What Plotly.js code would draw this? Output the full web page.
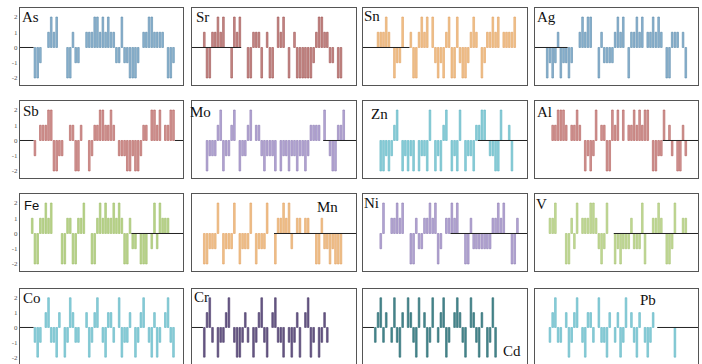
<!DOCTYPE html>
<html><head><meta charset="utf-8">
<script src="https://cdn.plot.ly/plotly-3.0.1.min.js"></script>
<style>html,body{margin:0;padding:0;background:#fff}#chart{width:702px;height:364px}</style>
</head><body><div id="chart"></div>
<script>
const _ = null;
const elements = ['As','Sr','Sn','Ag','Sb','Mo','Zn','Al','Fe','Mn','Ni','V','Co','Cr','Cd','Pb'];

const As = [_,_,_,_,_,-2,-2,-1,_,_,1,2,1,2,_,_,_,-2,-2,1,-1,-1,_,_,1,1,1,2,2,1,2,1,2,1,1,-1,-1,2,-1,-1,-2,-2,-2,-1,_,1,1,2,2,1,1,1,1,_,-2,-2,-1,_,_,_];
const Sr = [_,_,_,_,1,-2,-2,1,1,2,1,2,_,_,-2,2,1,2,_,_,-2,-2,1,1,1,-2,_,1,-2,-2,_,2,1,2,_,-2,_,1,-2,-2,-2,-2,-2,-2,-1,1,2,2,1,1,-1,-1,_,-2,-2,_,_,_,_,_];
const Sn = [_,_,_,_,_,1,1,1,2,1,_,-2,-1,-1,2,_,_,1,-2,-2,1,2,1,2,_,2,-1,-2,-1,-2,1,2,-2,-2,2,-1,-2,-2,-1,1,2,1,_,-2,-1,1,1,2,1,2,_,1,1,1,1,2,_,_,_,_];
const Ag = [_,_,_,_,-2,-1,-2,-1,1,-2,-1,-1,-2,-1,_,_,1,2,1,2,2,_,_,-2,1,-1,-1,-1,-1,1,2,1,2,_,-2,1,1,2,1,2,_,1,1,2,1,2,1,_,-2,-2,1,1,1,_,1,-2,_,_,_,_];
const Sb = [_,_,_,_,_,-1,_,1,1,1,2,2,-2,-2,-1,-1,_,_,1,1,-2,-2,1,_,_,-2,-1,1,1,2,2,1,1,2,1,_,-1,-1,-1,-2,-2,-1,-2,-2,-1,1,1,_,2,2,1,2,_,1,1,2,2,_,_,_];
const Mo = [_,_,_,_,_,-2,-1,-1,-1,1,2,-2,-1,-1,1,2,_,-2,-1,-1,1,2,_,1,1,-1,-2,-1,-1,-1,-2,_,-2,-1,-1,-2,-1,-1,-2,-1,-1,-2,-1,1,1,1,1,_,2,_,-1,-2,-2,1,1,2,_,_,_,_];
const Zn = [_,_,_,_,_,_,-2,-2,-1,-2,-1,1,2,_,-2,-1,-2,-1,-2,_,-2,-1,-1,-2,2,_,-2,-1,-2,1,2,_,-2,-1,-2,2,_,-2,-1,-1,-2,1,1,2,2,_,-1,-1,-2,-2,2,_,_,1,-2,_,_,_,_,_];
const Al = [_,_,_,_,_,_,1,1,2,2,2,1,_,1,1,2,1,_,-2,-1,-2,-1,2,_,1,1,-2,-2,2,1,2,_,2,_,1,1,2,1,2,1,2,2,_,-2,-2,-1,-1,2,_,1,-1,_,-2,-2,1,-1,_,_,_,_];
const Fe = [_,_,_,_,1,-2,-2,1,1,2,1,2,_,_,_,-2,-2,1,1,-2,-2,1,1,2,_,_,-2,-2,1,2,1,2,1,1,2,1,2,1,-2,-2,1,-1,-1,_,-2,-2,-2,_,-1,2,-1,2,1,1,1,_,_,_,_,_];
const Mn = [_,_,_,_,-2,-2,-1,-1,-1,2,_,-2,-1,-1,-1,2,_,-2,-1,-1,-1,2,_,-2,-1,-1,-1,2,_,_,-2,1,1,2,1,2,-1,_,1,1,_,1,1,_,_,-2,-2,1,-1,-1,-2,-1,-2,-2,-2,_,_,_,_,_];
const Ni = [_,_,_,_,_,_,-1,2,_,_,1,1,2,1,2,_,_,-2,-2,1,-1,-1,1,1,2,1,2,-2,-1,_,1,1,2,1,2,_,_,-2,-2,1,-1,-1,-1,-1,-1,-1,-1,1,1,2,1,2,_,_,-2,-2,1,_,_,_];
const V  = [_,_,_,_,_,1,1,2,_,_,_,-2,-2,1,-1,2,_,1,1,1,2,2,1,-1,-2,-1,2,_,_,-2,-1,-2,-1,-1,-1,1,-1,-1,-1,2,-2,_,_,1,1,2,1,_,-2,-2,-1,2,_,_,1,1,_,_,_,_];
const Co = [_,_,_,_,_,-1,-2,-1,_,1,2,-1,-1,-2,1,_,-2,-1,2,1,-1,-1,_,_,1,-2,-1,1,2,_,-1,-2,1,1,-1,_,2,-2,-1,-1,1,_,-2,-1,1,2,_,-1,-2,1,-2,-1,_,1,2,-1,-2,_,_,_];
const Cr = [_,_,_,_,-2,1,2,-1,_,-2,-1,-1,1,2,_,-1,-2,-2,-1,1,-1,_,-2,-1,1,2,-1,-2,_,1,2,-1,-1,-2,_,-1,-2,-1,1,-2,_,1,2,-2,-1,_,-2,-1,1,-1,_,_,_,_,_,_,_,_,_,_];
const Cd = [_,_,_,_,-1,1,2,-1,1,_,-1,2,-1,-2,1,_,2,1,-1,-2,2,_,1,-2,-1,2,_,-1,1,2,-2,-1,_,1,2,1,-1,-2,_,2,1,-1,-2,1,_,-2,-1,2,-2,_,_,_,_,_,_,_,_,_,_,_];
const Pb = [_,_,_,_,_,-1,1,2,-1,-1,_,1,-2,-1,1,2,_,-1,-2,1,1,-1,_,2,-1,-1,-2,1,_,-1,1,-2,-1,2,_,1,-1,-2,1,_,-1,-2,-1,1,_,_,_,_,_,_,_,-2,_,_,_,_,_,_,_,_];

// index ranges where the zero baseline is drawn
const zeroSpans = {
  As:[[0,4]], Sr:[[0,17]], Sn:[[0,16]], Ag:[[0,11]],
  Sb:[[0,4],[57,59]], Mo:[[48,59]], Zn:[[42,59]], Al:[[47,59]],
  Fe:[[41,59]], Mn:[[30,59]], Ni:[[32,59]], V:[[29,59]],
  Co:[[0,4]], Cr:[[0,3]], Cd:[[0,3]], Pb:[[45,59]]
};
const yTicks = [-2,-1,0,1,2];
const yTickText = ['-2','-1','0','1','2'];

const series = {As,Sr,Sn,Ag,Sb,Mo,Zn,Al,Fe,Mn,Ni,V,Co,Cr,Cd,Pb};
const fills = {As:'#8fb6d3',Sr:'#c98d8b',Sn:'#f2c48e',Ag:'#8fb6d3',Sb:'#d49a98',Mo:'#b8aad8',Zn:'#8dd0da',Al:'#d49a98',
  Fe:'#bcd68e',Mn:'#f2c48e',Ni:'#b8aad8',V:'#c4dc98',Co:'#8dd0da',Cr:'#6a5a88',Cd:'#4a8a90',Pb:'#8dd0da'};
const edges = {As:'#5a8aaa',Sr:'#9a4e4c',Sn:'#e0a060',Ag:'#5a8aaa',Sb:'#b05a58',Mo:'#8a78b0',Zn:'#5eb4c2',Al:'#b05a58',
  Fe:'#9cbc66',Mn:'#e0a060',Ni:'#8a78b0',V:'#a4c070',Co:'#5eb4c2',Cr:'#4a3a68',Cd:'#2a6a70',Pb:'#5eb4c2'};

const W = 702, H = 364;
const colLeft = [20,192,363,535], colRight = [183,356,527,698];
const rowTop = [8,101,194,289], rowBottom = [85,178,271,364];
const labelPos = {As:[21,8],Sr:[195,8],Sn:[363,7],Ag:[536,8],Sb:[22,102],Mo:[189,103],Zn:[370,105],Al:[536,103],
  Fe:[23,197],Mn:[316,198],Ni:[363,194],V:[535,195],Co:[22,289],Cr:[193,288],Cd:[502,342],Pb:[639,291]};

const traces = [];
const layout = {width:W, height:H, margin:{l:0,r:0,t:0,b:0}, showlegend:false,
  paper_bgcolor:'#fff', plot_bgcolor:'#fff', annotations:[]};

elements.forEach((el,k)=>{
  const r = Math.floor(k/4), c = k%4;
  const ax = k===0 ? '' : String(k+1);
  const vals = series[el];
  const xs = vals.map((v,i)=>i);
  traces.push({type:'bar', x:xs, y:vals, xaxis:'x'+ax, yaxis:'y'+ax, width:0.62,
    marker:{color:fills[el], line:{color:edges[el], width:0.6}}, hoverinfo:'skip'});
  const zx=[], zy=[];
  zeroSpans[el].forEach(([a,b])=>{ zx.push(a-0.5,b+0.5,null); zy.push(0,0,null); });
  traces.push({type:'scatter', mode:'lines', x:zx, y:zy, xaxis:'x'+ax, yaxis:'y'+ax,
    line:{color:'#222', width:1}, hoverinfo:'skip'});
  layout['xaxis'+ax] = {domain:[colLeft[c]/W, colRight[c]/W], range:[-0.5, vals.length-0.5],
    showticklabels:false, ticks:'', showgrid:false, zeroline:false, showline:true, mirror:true,
    linecolor:'#555', linewidth:1, anchor:'y'+ax, fixedrange:true};
  layout['yaxis'+ax] = {domain:[1-rowBottom[r]/H, 1-rowTop[r]/H], range:[-2.46,2.59],
    tickvals:yTicks, ticktext:yTickText, showticklabels:c===0, ticks:'',
    tickfont:{size:7, color:'#555', family:'Liberation Serif, serif'},
    showgrid:false, zeroline:false, showline:true, mirror:true, linecolor:'#555', linewidth:1,
    anchor:'x'+ax, fixedrange:true};
  const p = labelPos[el];
  layout.annotations.push({text:el, xref:'paper', yref:'paper', x:p[0]/W, y:1-p[1]/H,
    xanchor:'left', yanchor:'top', showarrow:false, borderpad:0,
    font:{family: el==='Fe' ? 'Liberation Sans, Arial, sans-serif' : 'Liberation Serif, Times New Roman, serif',
      size: el==='Fe' ? 13 : 15, color:'#111'}});
});

Plotly.newPlot('chart', traces, layout, {staticPlot:true, displayModeBar:false});
</script></body></html>
